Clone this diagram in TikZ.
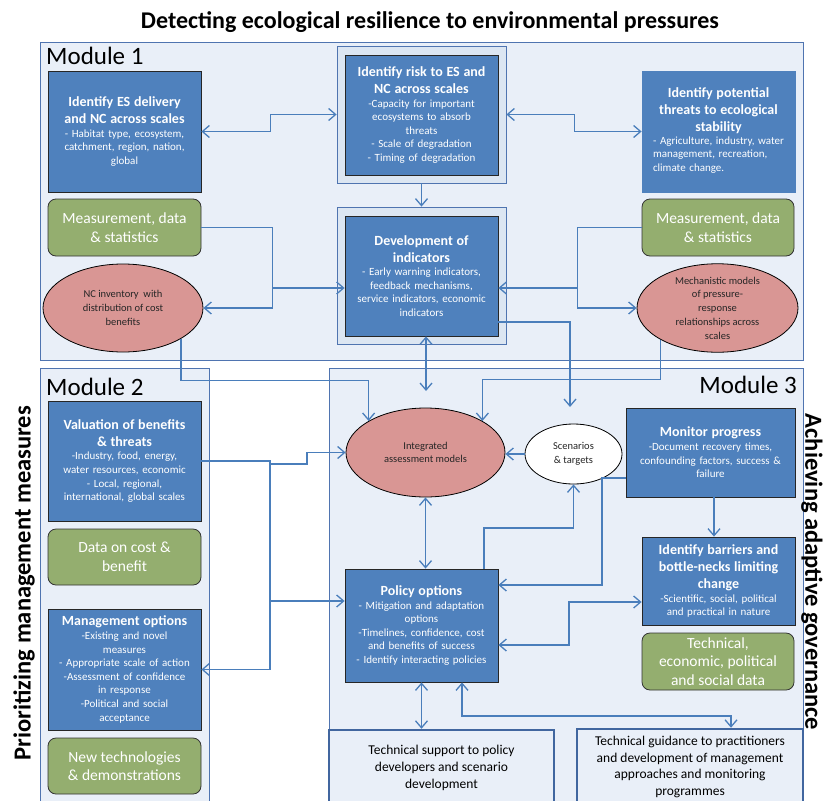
\documentclass[tikz,border=0pt]{standalone}
\usepackage{fontspec}
\setmainfont{Carlito}
\usepackage{tikz}
\usetikzlibrary{arrows.meta}
\usetikzlibrary{shapes.geometric}

\definecolor{panelfill}{HTML}{E9EFF8}
\definecolor{paneldraw}{HTML}{4F74B0}
\definecolor{framefill}{HTML}{DCE6F2}
\definecolor{boxblue}{HTML}{4F81BD}
\definecolor{boxgreen}{HTML}{94AE6F}
\definecolor{boxred}{HTML}{D99694}
\definecolor{linkblue}{HTML}{4A7EBB}
\definecolor{thickdraw}{HTML}{41669F}

\newcommand\boxtitle{\fontsize{14}{17}\selectfont\bfseries}
\newcommand\boxbody{\fontsize{11}{13.6}\selectfont}
\newcommand\greentext{\fontsize{15.5}{18.5}\selectfont}
\newcommand\ovaltext{\fontsize{10.5}{13.8}\selectfont}
\newcommand\supporttext{\fontsize{13.5}{16.7}\selectfont}

\tikzset{panel/.style={draw=paneldraw, fill=panelfill, line width=0.8pt},
 modlabel/.style={font=\fontsize{25}{30}\selectfont, inner sep=0pt},
 sidelabel/.style={font=\fontsize{24.5}{30}\selectfont\bfseries, inner sep=0pt},
 outerframe/.style={rectangle, draw=paneldraw, fill=framefill, line width=0.8pt,
   minimum width=169pt, minimum height=137pt},
 bluebox/.style={rectangle, draw=black!85, fill=boxblue, line width=0.8pt,
   text=white, align=center, font=\boxbody, inner sep=2pt, text width=143pt,
   minimum width=153pt},
 greenbox/.style={rectangle, rounded corners=8pt, draw=black!80, fill=boxgreen,
   line width=0.8pt, text=white, align=center, font=\greentext,
   minimum width=153pt, minimum height=57pt},
 redoval/.style={ellipse, draw=black, fill=boxred, line width=0.8pt, align=center,
   font=\ovaltext, text=black!85, inner sep=0pt, minimum width=160pt, minimum height=88pt},
 whiteoval/.style={ellipse, draw=black, fill=white, line width=0.8pt, align=center,
   font=\ovaltext, text=black!85, inner sep=0pt},
 supportbox/.style={rectangle, draw=thickdraw, fill=panelfill, line width=2.5pt,
   align=center, font=\supporttext, minimum width=225pt, minimum height=76pt},
 link/.style={draw=linkblue, line width=1.3pt},
 >={Straight Barb[length=7pt,width=12pt]},
 }

\begin{document}
\begin{tikzpicture}[x=1pt,y=-1pt]
\useasboundingbox (0,0) rectangle (826,800);
\clip (0,0) rectangle (826,800);

\node[font=\fontsize{24}{28}\selectfont\bfseries] (title) at (430,22)
  {Detecting ecological resilience to environmental pressures};

\draw[panel] (40,42) rectangle (803,360);
\draw[panel] (40,368) rectangle (209,812);
\draw[panel] (329,368) rectangle (803,812);

\node[modlabel, anchor=west] (mod1) at (46,56) {Module 1};
\node[modlabel, anchor=west] (mod2) at (46,387) {Module 2};
\node[modlabel, anchor=east] (mod3) at (797,385) {Module 3};
\node[sidelabel, rotate=90] (prio) at (24,583) {Prioritizing management measures};
\node[sidelabel, rotate=-90] (adapt) at (812,572) {Achieving adaptive governance};

% module 1
\node[bluebox, minimum height=121pt] (esd) at (124.5,131.5)
  {{\boxtitle Identify ES delivery\\and NC across scales\par}- Habitat type, ecosystem,\\catchment, region, nation,\\global};
\node[outerframe] (riskf) at (421.5,114.5) {};
\node[bluebox, minimum height=120pt] (risk) at (421.5,115)
  {{\boxtitle Identify risk to ES and\\NC across scales\par}-Capacity for important\\ecosystems to absorb\\threats\\- Scale of degradation\\- Timing of degradation};
\node[bluebox, draw=boxblue, minimum height=121pt] (threats) at (718.5,131.5)
  {{\boxtitle Identify potential\\threats to ecological\\stability\par}\begin{tabular}{@{}l@{}}- Agriculture, industry, water\\management, recreation,\\climate change.\end{tabular}};
\node[greenbox] (meas1) at (124.5,227.5) {Measurement, data\\\& statistics};
\node[greenbox, minimum width=152pt] (meas2) at (718,227.5) {Measurement, data\\\& statistics};
\node[outerframe] (devf) at (421.5,275.5) {};
\node[bluebox, minimum height=120pt] (dev) at (421.5,276)
  {{\boxtitle Development of\\indicators\par}- Early warning indicators,\\feedback mechanisms,\\service indicators, economic\\indicators};
\node[redoval] (nc) at (123,308) {NC inventory~ with\\distribution of cost\\benefits};
\node[redoval, minimum width=161pt] (mech) at (717.5,308)
  {Mechanistic models\\of pressure-\\response\\relationships across\\scales};

% module 2
\node[bluebox, minimum height=120pt] (val) at (124.5,461)
  {{\boxtitle Valuation of benefits\\\& threats\par}-Industry, food, energy,\\water resources, economic\\- Local, regional,\\international, global scales};
\node[greenbox, minimum height=56pt] (cost) at (124.5,557) {Data on cost \&\\benefit};
\node[bluebox, minimum height=121pt] (mgmt) at (124.5,669.5)
  {{\boxtitle Management options\par}-Existing and novel\\measures\\- Appropriate scale of action\\-Assessment of confidence\\in response\\-Political and social\\acceptance};
\node[greenbox, minimum height=56pt] (newtech) at (124.5,766) {New technologies\\\& demonstrations};

% module 3
\node[redoval, minimum width=159pt, minimum height=89pt, font=\fontsize{10.5}{13}\selectfont] (iam) at (425.5,452.5)
  {Integrated\\assessment models};
\node[whiteoval, minimum width=97pt, minimum height=60pt] (scn) at (573.5,454) {Scenarios\\\& targets};
\node[bluebox, minimum width=169pt, minimum height=89pt, text width=159pt] (mon) at (710.5,452.5)
  {{\boxtitle Monitor progress\par}-Document recovery times,\\confounding factors, success \&\\failure};
\node[bluebox, minimum height=88pt] (bar) at (718.5,581)
  {{\boxtitle Identify barriers and\\bottle-necks limiting\\change\par}-Scientific, social, political\\and practical in nature};
\node[greenbox, minimum width=152pt] (techdata) at (718,661.5) {Technical,\\economic, political\\and social data};
\node[bluebox, minimum height=113pt] (policy) at (421.5,625.5)
  {{\boxtitle Policy options\par}- Mitigation and adaptation\\options\\-Timelines, confidence, cost\\and benefits of success\\- Identify interacting policies};
\node[supportbox] (sup) at (441.5,768)
  {Technical support to policy\\developers and scenario\\development};
\node[supportbox, minimum width=226pt] (gui) at (690,767)
  {Technical guidance to practitioners\\and development of management\\approaches and monitoring\\programmes};

\coordinate (j1) at (272,288);
\coordinate (j3) at (578,288);
\coordinate (e1) at (426,391);
\coordinate (j4) at (570,322);
\coordinate (e4) at (570,407);
\coordinate (j2) at (270,461);
\coordinate (j12) at (270,601);
\coordinate (j5) at (484,528);
\coordinate (j6) at (602,478);
\coordinate (j7) at (602,585);
\coordinate (j8) at (569,645);
\coordinate (j9) at (569,602);
\coordinate (j10) at (462,716);
\coordinate (j11) at (731,716);
\coordinate (j13) at (714,497);

\draw[link,<->] (esd.east) -- ++(69,0) |- (riskf.west);
\draw[link,<->] (riskf.east) -- ++(68,0) |- (threats.west);
\draw[link,->] (riskf.south) -- (devf.north);
\draw[link,->] (meas1.east) -- ++(71,0) |- (nc.east);
\draw[link,->] (j1) -- (j1 -| dev.west);
\draw[link,->] (meas2.west) -- ++(-64,0) |- (mech.west);
\draw[link,->] (j3) -- (j3 -| dev.east);
\draw[link,<->] (e1 |- dev.south) -- (e1);
\draw[link,->] (nc.-28) -- ++(0,42) -| (iam.151);
\draw[link,->] (mech.209) -- ++(0,40) -| (iam.29);
\draw[link,->] (j4 -| dev.east) -- (j4) -- (e4);
\draw[link,->] (scn.west) -- (scn.west -| iam.east);
\draw[link,->] (val.east) -- (j2) -- (270,464) -- (307,464) |- (iam.west);
\draw[link,->] (j2) |- (mgmt.east);
\draw[link,->] (j12) -- (j12 -| policy.west);
\draw[link,<->] (iam.south) -- (iam.south |- policy.north);
\draw[link,->] (j5 |- policy.north) -- (j5) -| (scn.south);
\draw[link,->] (j6 -| mon.west) -- (j6) -- (j7) -- (j7 -| policy.east);
\draw[link,->] (j13 |- mon.south) -- (j13 |- bar.north);
\draw[link,<->] (j8 -| policy.east) -- (j8) -- (j9) -- (j9 -| bar.west);
\draw[link,<->] (policy.south) -- (policy.south |- sup.north);
\draw[link,<->] (j10 |- policy.south) -- (j10) -- (j11) -- (j11 |- gui.north);
\end{tikzpicture}
\end{document}
